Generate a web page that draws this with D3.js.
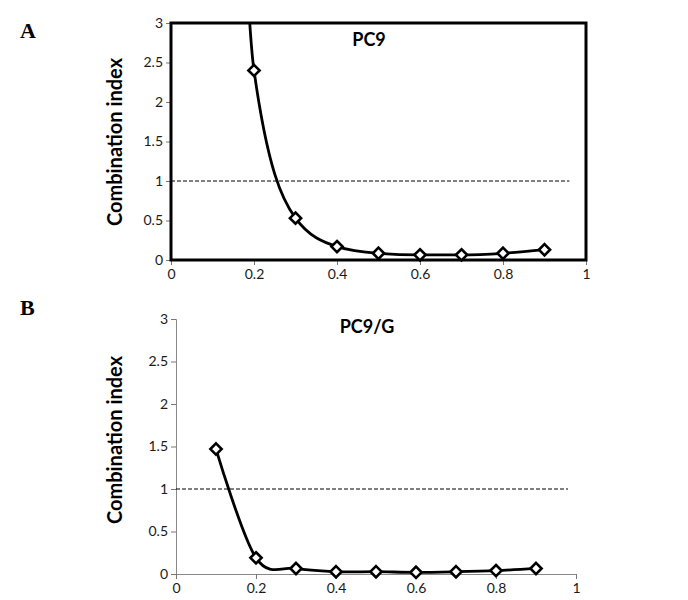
<!DOCTYPE html>
<html>
<head>
<meta charset="utf-8">
<script src="https://cdn.jsdelivr.net/npm/d3@7"></script>
<style>
  html, body { margin: 0; padding: 0; background: #fff; }
  svg { display: block; }
</style>
</head>
<body>
<svg id="chart" width="688" height="600"></svg>
<script>
// ---- data ----
const fractionAffected = [0.1, 0.2, 0.3, 0.4, 0.5, 0.6, 0.7, 0.8, 0.9];
// Panel A (PC9): value at 0.1 is off scale (curve leaves the top of the plot)
const ciPC9  = [20, 2.4, 0.53, 0.17, 0.085, 0.065, 0.065, 0.085, 0.13];
const showPC9 = [false, true, true, true, true, true, true, true, true];
// Panel B (PC9/G)
const ciPC9G = [1.47, 0.19, 0.065, 0.027, 0.027, 0.02, 0.027, 0.04, 0.065];
const showPC9G = [true, true, true, true, true, true, true, true, true];
const xTicks = [0, 0.2, 0.4, 0.6, 0.8, 1];
const yTicks = [0, 0.5, 1, 1.5, 2, 2.5, 3];
const refLine = 1;
const panelTitles = ["PC9", "PC9/G"];
const panelLetters = ["A", "B"];
const yLabel = "Combination index";

const svg = d3.select("#chart");
const fmt = d => String(d);

function drawPanel(opt) {
  const x = d3.scaleLinear().domain([0, 1]).range([opt.left, opt.right]);
  const y = d3.scaleLinear().domain([0, 3]).range([opt.bottom, opt.top]);
  const g = svg.append("g");
  const clipId = "clip" + opt.idx;
  svg.append("defs").append("clipPath").attr("id", clipId)
    .append("rect").attr("x", opt.left).attr("y", opt.top - 1)
    .attr("width", opt.right - opt.left).attr("height", opt.bottom - opt.top + 1);

  // axes
  const axColor = opt.framed ? "#000" : "#888";
  const yAxis = g.append("g").attr("transform", `translate(${opt.left},0)`)
    .call(d3.axisLeft(y).tickValues(yTicks).tickFormat(fmt).tickSize(5).tickPadding(3));
  const xAxis = g.append("g").attr("transform", `translate(0,${opt.bottom})`)
    .call(d3.axisBottom(x).tickValues(xTicks).tickFormat(fmt).tickSize(5).tickPadding(4));
  [yAxis, xAxis].forEach(a => {
    a.selectAll("path.domain").attr("stroke", axColor).attr("stroke-width", 1);
    a.selectAll(".tick line").attr("stroke", "#777").attr("stroke-width", 1);
    a.selectAll("text").attr("font-family", "Lato, 'Open Sans', sans-serif")
      .attr("font-size", 14).attr("fill", "#1a1a1a");
  });

  if (opt.framed) {
    g.append("rect").attr("x", opt.left).attr("y", opt.top)
      .attr("width", opt.right - opt.left).attr("height", opt.bottom - opt.top)
      .attr("fill", "none").attr("stroke", "#000").attr("stroke-width", 3);
  }

  // reference line
  g.append("line")
    .attr("x1", x(0)).attr("x2", x(opt.refEnd))
    .attr("y1", y(refLine)).attr("y2", y(refLine))
    .attr("stroke", "#000").attr("stroke-width", 1).attr("stroke-dasharray", "4,2");

  const pts = fractionAffected.map((f, i) => ({ x: f, y: opt.values[i], show: opt.show[i] }));
  const line = d3.line().x(d => x(d.x)).y(d => y(d.y)).curve(opt.curve);
  g.append("path").datum(pts).attr("clip-path", `url(#${clipId})`)
    .attr("d", line).attr("fill", "none").attr("stroke", "#000").attr("stroke-width", 2.8);

  const diamond = d3.symbol().type(d3.symbolDiamond2).size(80);
  g.append("g").selectAll("path").data(pts.filter(d => d.show)).join("path")
    .attr("d", diamond)
    .attr("transform", d => `translate(${x(d.x)},${y(d.y)})`)
    .attr("fill", "#fff").attr("stroke", "#000").attr("stroke-width", 2.6);

  // title
  g.append("text").attr("x", opt.titleX).attr("y", opt.titleY)
    .attr("text-anchor", "middle").attr("font-family", "Lato, sans-serif")
    .attr("font-weight", "bold").attr("font-size", 18).attr("fill", "#000")
    .text(opt.title);

  // y label
  g.append("text")
    .attr("transform", `translate(121.5,${opt.labelY}) rotate(-90)`)
    .attr("text-anchor", "middle").attr("font-family", "Lato, sans-serif")
    .attr("font-weight", "bold").attr("font-size", 20).attr("fill", "#000")
    .text(yLabel);

  // panel letter
  svg.append("text").attr("x", 20).attr("y", opt.letterY)
    .attr("font-family", "'Liberation Serif', 'Times New Roman', serif")
    .attr("font-weight", "bold").attr("font-size", 22).attr("fill", "#000")
    .text(opt.letter);
}

drawPanel({ idx: 0, left: 171, right: 586, top: 23, bottom: 260, framed: true,
  values: ciPC9, show: showPC9, refEnd: 0.96, title: panelTitles[0],
  curve: d3.curveMonotoneX,
  titleX: 369, titleY: 46, labelY: 142, letter: panelLetters[0], letterY: 38 });
drawPanel({ idx: 1, left: 176, right: 576, top: 319, bottom: 574, framed: false,
  values: ciPC9G, show: showPC9G, refEnd: 0.98, title: panelTitles[1],
  curve: d3.curveCardinal.tension(0),
  titleX: 367, titleY: 333, labelY: 440, letter: panelLetters[1], letterY: 315 });
</script>
</body>
</html>
